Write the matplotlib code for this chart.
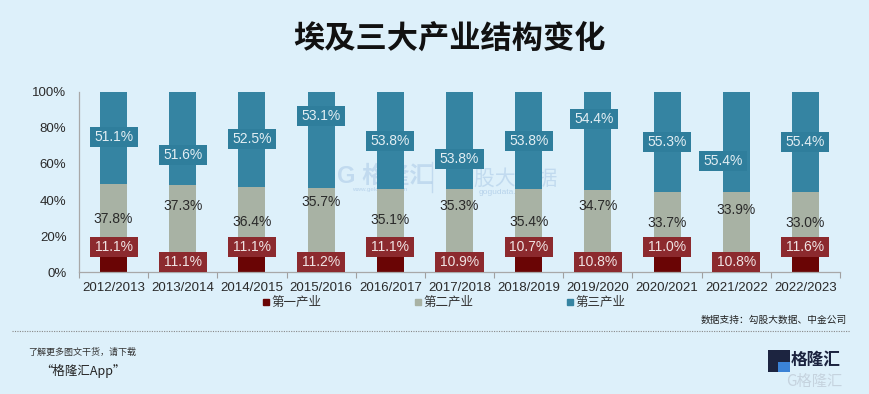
import matplotlib
matplotlib.use("Agg")
import matplotlib.pyplot as plt
from matplotlib.patches import Rectangle
from matplotlib.lines import Line2D

plt.rcParams['font.family'] = ['Liberation Sans', 'Noto Sans CJK SC', 'DejaVu Sans']

# ---------------- data ----------------
years = ["2012/2013", "2013/2014", "2014/2015", "2015/2016", "2016/2017", "2017/2018",
         "2018/2019", "2019/2020", "2020/2021", "2021/2022", "2022/2023"]
primary = [11.1, 11.1, 11.1, 11.2, 11.1, 10.9, 10.7, 10.8, 11.0, 10.8, 11.6]
secondary = [37.8, 37.3, 36.4, 35.7, 35.1, 35.3, 35.4, 34.7, 33.7, 33.9, 33.0]
tertiary = [51.1, 51.6, 52.5, 53.1, 53.8, 53.8, 53.8, 54.4, 55.3, 55.4, 55.4]
series_names = ["第一产业", "第二产业", "第三产业"]
yticks = [0, 20, 40, 60, 80, 100]

# label placement (percent of axis height)
lab_y_primary = [14.2, 5.9, 14.2, 5.9, 14.2, 5.9, 14.2, 5.9, 14.2, 5.9, 14.2]
lab_y_secondary = [29.5, 36.7, 28.0, 38.7, 29.0, 36.9, 28.0, 36.7, 27.5, 34.5, 27.5]
lab_y_tertiary = [74.7, 64.8, 73.8, 86.5, 72.9, 62.7, 72.9, 84.7, 72.3, 61.8, 72.3]
lab_dx_tertiary = [0, 0, 0, 0, 0, 0, 0, -0.05, 0, -0.19, 0]

# ---------------- style ----------------
BG = "#ddf0fa"
C1_BAR = "#6a0505"
C1_BOX = "#8c2a2e"
C2_BAR = "#a8b2a4"
C3_BAR = "#3584a2"
C3_BOX = "#2f7e9c"
WM = "#5f8fc8"

W, H = 870, 394
fig = plt.figure(figsize=(W / 100, H / 100), dpi=100, facecolor=BG)

# watermark (behind the chart)
fig.text(385 / W, 1 - 176 / H, "G 格隆汇", fontsize=17, color=WM, alpha=0.22,
         ha='center', va='center', fontweight='bold', zorder=0)
fig.text(380 / W, 1 - 190 / H, "www.gelonghui.com", fontsize=4.5, color=WM, alpha=0.3,
         ha='center', va='center', zorder=0)
fig.text(505 / W, 1 - 179 / H, "勾股大数据", fontsize=15, color=WM, alpha=0.22,
         ha='center', va='center', zorder=0)
fig.text(505 / W, 1 - 193 / H, "gogudata.com", fontsize=6, color=WM, alpha=0.3,
         ha='center', va='center', zorder=0)
fig.add_artist(Line2D([432 / W, 432 / W], [1 - 162 / H, 1 - 192 / H], color=WM,
                      alpha=0.22, lw=1, zorder=0))

ax = fig.add_axes([79 / W, 1 - 272.3 / H, 761 / W, 180.6 / H])
ax.set_facecolor('none')
ax.set_zorder(1)

x = list(range(len(years)))
bw = 0.39
bottom2 = primary
bottom3 = [a + b for a, b in zip(primary, secondary)]
ax.bar(x, primary, bw, color=C1_BAR, zorder=2)
ax.bar(x, secondary, bw, bottom=bottom2, color=C2_BAR, zorder=2)
ax.bar(x, tertiary, bw, bottom=bottom3, color=C3_BAR, zorder=2)

bx_w = 48 / 69.1
bx_h = 20 / 180.6 * 100

def box_label(xc, yc, txt, fc, tc):
    ax.add_patch(Rectangle((xc - bx_w / 2, yc - bx_h / 2), bx_w, bx_h, facecolor=fc,
                           edgecolor='none', zorder=3))
    ax.text(xc, yc, txt, ha='center', va='center', fontsize=10, color=tc, zorder=4)

for i in x:
    box_label(i, lab_y_primary[i], f"{primary[i]:.1f}%", C1_BOX, "#f0e4e4")
    ax.text(i, lab_y_secondary[i], f"{secondary[i]:.1f}%", ha='center', va='center',
            fontsize=10, color="#2a2a2a", zorder=4)
    box_label(i + lab_dx_tertiary[i], lab_y_tertiary[i], f"{tertiary[i]:.1f}%", C3_BOX, "#e2eef3")

ax.set_xlim(-0.5, len(years) - 0.5)
ax.set_ylim(0, 100)
ax.set_yticks(yticks)
ax.set_yticklabels([f"{v}%" for v in yticks], fontsize=9.5, color="#2a2a2a")
ax.set_xticks(x)
ax.set_xticklabels(years, fontsize=9.5, color="#2a2a2a")
ax.set_xticks([i - 0.5 for i in range(len(years) + 1)], minor=True)
ax.tick_params(axis='x', which='major', length=0, pad=7)
ax.tick_params(axis='x', which='minor', length=4, color="#a0a0a0", width=0.8)
ax.tick_params(axis='y', length=0, pad=9)
for s in ['top', 'right']:
    ax.spines[s].set_visible(False)
for s in ['left', 'bottom']:
    ax.spines[s].set_color("#a8a8a8")
    ax.spines[s].set_linewidth(0.9)

# legend
handles = [Line2D([], [], marker='s', linestyle='none', markersize=4.5, color=c)
           for c in (C1_BAR, C2_BAR, C3_BAR)]
leg = fig.legend(handles, series_names, loc='center', bbox_to_anchor=(444 / W, 1 - 303 / H),
                 ncol=3, frameon=False, fontsize=9, handlelength=0.6, handletextpad=0.15,
                 columnspacing=7.4, borderaxespad=0, borderpad=0)
for t in leg.get_texts():
    t.set_color("#333333")

# title
fig.text(450 / W, 1 - 40 / H, "埃及三大产业结构变化", fontsize=22.5, fontweight='bold',
         color="#111111", ha='center', va='center', family=['Noto Sans CJK SC'])

# source
fig.text(847 / W, 1 - 320 / H, "数据支持：勾股大数据、中金公司", fontsize=7, color="#222222",
         ha='right', va='center', family=['Noto Sans CJK SC'])
fig.add_artist(Line2D([12 / W, 850 / W], [1 - 331 / H, 1 - 331 / H], color="#888888",
                      lw=0.8, linestyle=(0, (1, 1.2))))

# footer
fig.text(28 / W, 1 - 352 / H, "了解更多图文干货，请下载", fontsize=6.5, color="#333333",
         ha='left', va='center', style='italic', family=['Noto Sans CJK SC'])
fig.text(40 / W, 1 - 371 / H, "“格隆汇App”", fontsize=9, color="#222222",
         ha='left', va='center', style='italic', family=['Noto Sans CJK SC'])

# logo
fig.add_artist(Rectangle((768 / W, 1 - 372 / H), 22 / W, 22 / H, transform=fig.transFigure,
                         facecolor="#1c2440", edgecolor='none'))
fig.add_artist(Rectangle((778 / W, 1 - 372 / H), 12 / W, 12 / H, transform=fig.transFigure,
                         facecolor="#3b82d6", edgecolor='none'))
fig.add_artist(Rectangle((778 / W, 1 - 362 / H), 12 / W, 3 / H, transform=fig.transFigure,
                         facecolor="#1c2440", edgecolor='none'))
fig.text(816 / W, 1 - 360 / H, "格隆汇", fontsize=12, fontweight='bold', color="#1c2440",
         ha='center', va='center', family=['Noto Sans CJK SC'])
fig.text(814 / W, 1 - 381 / H, "G格隆汇", fontsize=11, color="#c0ccd8", alpha=0.8,
         ha='center', va='center', family=['Noto Sans CJK SC'])

fig.savefig("out.png", dpi=100, facecolor=BG)
